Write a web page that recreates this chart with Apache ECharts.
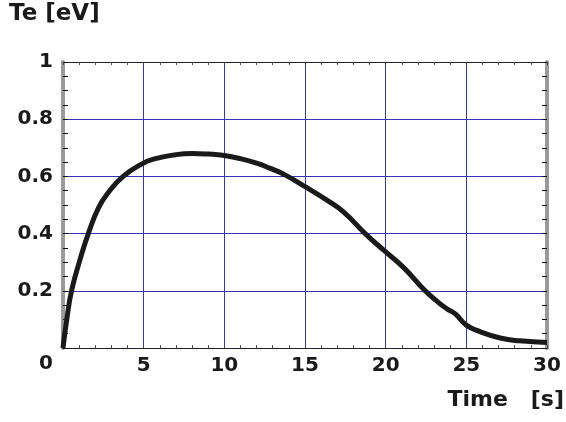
<!DOCTYPE html>
<html><head><meta charset="utf-8">
<script src="https://cdn.jsdelivr.net/npm/echarts@6/dist/echarts.min.js"></script>
<style>html,body{margin:0;padding:0;background:#fff}#c{width:566px;height:422px}</style>
</head><body><div id="c"></div>
<script>
var timeS = [0, 0.23, 0.53, 1.05, 1.57, 2.2, 2.8, 3.73, 4.9, 5.73, 7, 8, 9, 10, 11, 12, 12.85, 13.67, 14.9, 16.36, 17.4, 18.73, 19.86, 21.1, 22.45, 23.3, 23.8, 24.3, 25, 25.85, 27.1, 28.3, 30];
var teEv  = [0, 0.098, 0.2, 0.308, 0.4, 0.49, 0.543, 0.6, 0.644, 0.662, 0.676, 0.68, 0.678, 0.673, 0.662, 0.646, 0.628, 0.608, 0.568, 0.517, 0.475, 0.4, 0.343, 0.282, 0.2, 0.158, 0.137, 0.12, 0.08, 0.057, 0.035, 0.025, 0.019];
var yTitle = 'Te [eV]';
var xTitle = 'Time   [s]';

var pts = timeS.map(function(t, i){ return [t, teEv[i]]; });
var font = '"DejaVu Sans", "Liberation Sans", Arial, sans-serif';
var gridColor = '#3434b8';
var chart = echarts.init(document.getElementById('c'), null, {renderer:'canvas'});
function xAxisCfg(pos, labels){
  return {
    type:'value', min:0, max:30, interval:5, position:pos,
    axisLine:{show:true, onZero:false, lineStyle:{color:'#222', width:1}},
    axisTick:{show:true, inside:true, length:3, lineStyle:{color:'#444'}},
    minorTick:{show:true, splitNumber:5, length:3, lineStyle:{color:'#555'}},
    splitLine:{show:labels, lineStyle:{color:gridColor, width:1}},
    axisLabel:{show:labels, margin:8, color:'#1a1a1a', fontFamily:font, fontWeight:'bold', fontSize:20,
      formatter:function(v){ return v===0 ? '' : String(v); }}
  };
}
function yAxisCfg(pos, labels){
  return {
    type:'value', min:0, max:1, interval:0.2, position:pos,
    axisLine:{show:true, onZero:false, lineStyle:{color:'#9a9a9a', width:4}},
    axisTick:{show:true, inside:true, length:5, lineStyle:{color:'#111', width:1}},
    minorTick:{show:true, splitNumber:4, length:5, lineStyle:{color:'#111', width:1}},
    splitLine:{show:labels, lineStyle:{color:gridColor, width:1}},
    axisLabel:{show:labels, margin:10, color:'#1a1a1a', fontFamily:font, fontWeight:'bold', fontSize:20,
      formatter:function(v){ return v===0 ? '{z|0}' : String(Math.round(v*10)/10); },
      rich:{z:{padding:[32,0,0,0], fontFamily:font, fontWeight:'bold', fontSize:20, color:'#1a1a1a'}}}
  };
}
chart.setOption({
  animation:false,
  grid:{left:63, right:19, top:62, bottom:74},
  xAxis:[xAxisCfg('bottom', true), xAxisCfg('top', false)],
  yAxis:[yAxisCfg('left', true), yAxisCfg('right', false)],
  graphic:[
    {type:'text', left:9, top:3, style:{text:yTitle, fill:'#1a1a1a', font:'bold 23px "DejaVu Sans", sans-serif'}},
    {type:'text', right:2, top:389, style:{text:xTitle, fill:'#1a1a1a', font:'bold 22px "DejaVu Sans", sans-serif'}}
  ],
  series:[{
    type:'line', data:pts, smooth:0.5, showSymbol:false, symbol:'none',
    lineStyle:{color:'#1a1a1a', width:5}, z:5
  }]
});
</script></body></html>
